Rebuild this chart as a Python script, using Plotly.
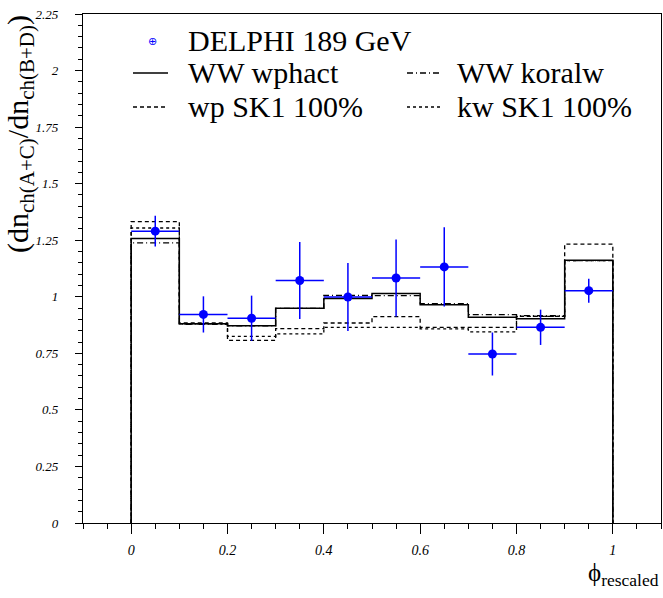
import plotly.graph_objects as go

# ---- data ----
bin_edges = [0.0, 0.1, 0.2, 0.3, 0.4, 0.5, 0.6, 0.7, 0.8, 0.9, 1.0]
ww_wphact = [1.258, 0.881, 0.872, 0.949, 0.992, 1.014, 0.965, 0.909, 0.903, 1.161]
ww_koralw = [1.238, 0.878, 0.872, 0.949, 1.006, 1.005, 0.970, 0.921, 0.917, 1.160]
wp_sk1 = [1.332, 0.885, 0.807, 0.859, 0.884, 0.912, 0.865, 0.865, 0.913, 1.233]
kw_sk1 = [1.304, 0.880, 0.825, 0.836, 0.865, 0.865, 0.858, 0.845, 0.913, 1.160]

data_x = [0.05, 0.15, 0.25, 0.35, 0.45, 0.55, 0.65, 0.75, 0.85, 0.95]
data_y = [1.290, 0.922, 0.905, 1.072, 0.999, 1.083, 1.132, 0.747, 0.865, 1.027]
data_err = [0.068, 0.080, 0.100, 0.170, 0.150, 0.170, 0.175, 0.095, 0.078, 0.053]

x_tick_vals = [0, 0.2, 0.4, 0.6, 0.8, 1]
x_tick_text = ["0", "0.2", "0.4", "0.6", "0.8", "1"]
y_tick_vals = [0, 0.25, 0.5, 0.75, 1, 1.25, 1.5, 1.75, 2, 2.25]
y_tick_text = ["0", "0.25", "0.5", "0.75", "1", "1.25", "1.5", "1.75", "2", "2.25"]

FONT = "'Liberation Serif', 'Times New Roman', Times, 'DejaVu Serif', serif"


def step(vals):
    xs = [bin_edges[0]] + list(bin_edges) + [bin_edges[-1]]
    ys = [0] + list(vals) + [vals[-1], 0]
    return xs, ys


fig = go.Figure()
for vals, dash, w in [(kw_sk1, "dot", 1.3), (wp_sk1, "4px,3px", 1.3),
                      (ww_koralw, "6px,3px,1px,3px", 1.3), (ww_wphact, "solid", 1.5)]:
    xs, ys = step(vals)
    fig.add_trace(go.Scatter(x=xs, y=ys, mode="lines", line_shape="hv",
                             line=dict(color="black", width=w, dash=dash),
                             showlegend=False, hoverinfo="skip"))

half_w = [(bin_edges[i + 1] - bin_edges[i]) / 2 for i in range(len(data_x))]
fig.add_trace(go.Scatter(
    x=data_x, y=data_y, mode="markers",
    marker=dict(color="#0000ff", size=9),
    error_y=dict(type="data", array=data_err, color="#0000ff", thickness=1.5, width=0),
    error_x=dict(type="data", array=half_w, color="#0000ff", thickness=1.5, width=0),
    showlegend=False))

fig.update_layout(
    width=663, height=598,
    margin=dict(l=83, r=2, t=14, b=75, autoexpand=False),
    plot_bgcolor="white", paper_bgcolor="white",
    font=dict(family=FONT, color="black"),
)

fig.update_xaxes(
    range=[-0.1, 1.1], showline=True, linecolor="black", linewidth=1.2, mirror=True,
    showgrid=False, zeroline=False, automargin=False,
    tickmode="array", tickvals=x_tick_vals, ticktext=x_tick_text,
    ticks="outside", ticklen=10, tickwidth=1, tickcolor="black",
    minor=dict(tickmode="linear", tick0=0, dtick=0.05, ticks="outside", ticklen=5,
               tickwidth=1, tickcolor="black", showgrid=False),
    tickfont=dict(family=FONT, size=14, style="italic"),
    ticklabelstandoff=4,
)
fig.update_yaxes(
    range=[0, 2.25], showline=True, linecolor="black", linewidth=1.2, mirror=True,
    showgrid=False, zeroline=False, automargin=False,
    tickmode="array", tickvals=y_tick_vals, ticktext=y_tick_text,
    ticks="outside", ticklen=7, tickwidth=1, tickcolor="black",
    minor=dict(tickmode="linear", tick0=0, dtick=0.05, ticks="outside", ticklen=4,
               tickwidth=1, tickcolor="black", showgrid=False),
    tickfont=dict(family=FONT, size=13, style="italic"),
    ticklabelstandoff=14,
)


def px(x):
    return (x - 83) / 578


def py(y):
    return (523 - y) / 509


# ---- axis titles ----
fig.add_annotation(
    xref="paper", yref="paper", x=px(20), y=py(13), xanchor="center", yanchor="top",
    text="(dn<sub>ch(A+C)</sub>/dn<sub>ch(B+D)</sub>)", textangle=-90, showarrow=False,
    font=dict(family=FONT, size=30, color="black"))
fig.add_annotation(
    xref="paper", yref="paper", x=1.0, y=py(592), xanchor="right", yanchor="bottom",
    text="ϕ<sub>rescaled</sub>", showarrow=False,
    font=dict(family=FONT, size=25, color="black"))

# ---- legend (drawn manually) ----
leg_font = dict(family=FONT, size=30, color="black")
fig.add_annotation(xref="paper", yref="paper", x=px(152), y=py(41), xanchor="center",
                   yanchor="middle", text="⊕", showarrow=False,
                   font=dict(family="DejaVu Sans", size=11, color="#0000ff"))
fig.add_annotation(xref="paper", yref="paper", x=px(186), y=py(40), xanchor="left",
                   yanchor="middle", text="DELPHI 189 GeV", showarrow=False, font=leg_font)
legend_rows = [
    (px(133), px(168), py(73), "solid", "WW wphact", px(186)),
    (px(407), px(441), py(73), "6px,3px,1px,3px", "WW koralw", px(455)),
    (px(133), px(168), py(107), "4px,3px", "wp SK1 100%", px(186)),
    (px(407), px(441), py(107), "dot", "kw SK1 100%", px(455)),
]
for x0, x1, yy, dash, label, tx in legend_rows:
    fig.add_shape(type="line", xref="paper", yref="paper", x0=x0, x1=x1, y0=yy, y1=yy,
                  line=dict(color="black", width=1.3, dash=dash))
    fig.add_annotation(xref="paper", yref="paper", x=tx, y=yy + 1 / 509, xanchor="left",
                       yanchor="middle", text=label, showarrow=False, font=leg_font)

fig.write_html(
    "out.html",
    config={"displayModeBar": False},
    post_script="document.body.style.margin='0';document.body.style.overflow='hidden';",
)
